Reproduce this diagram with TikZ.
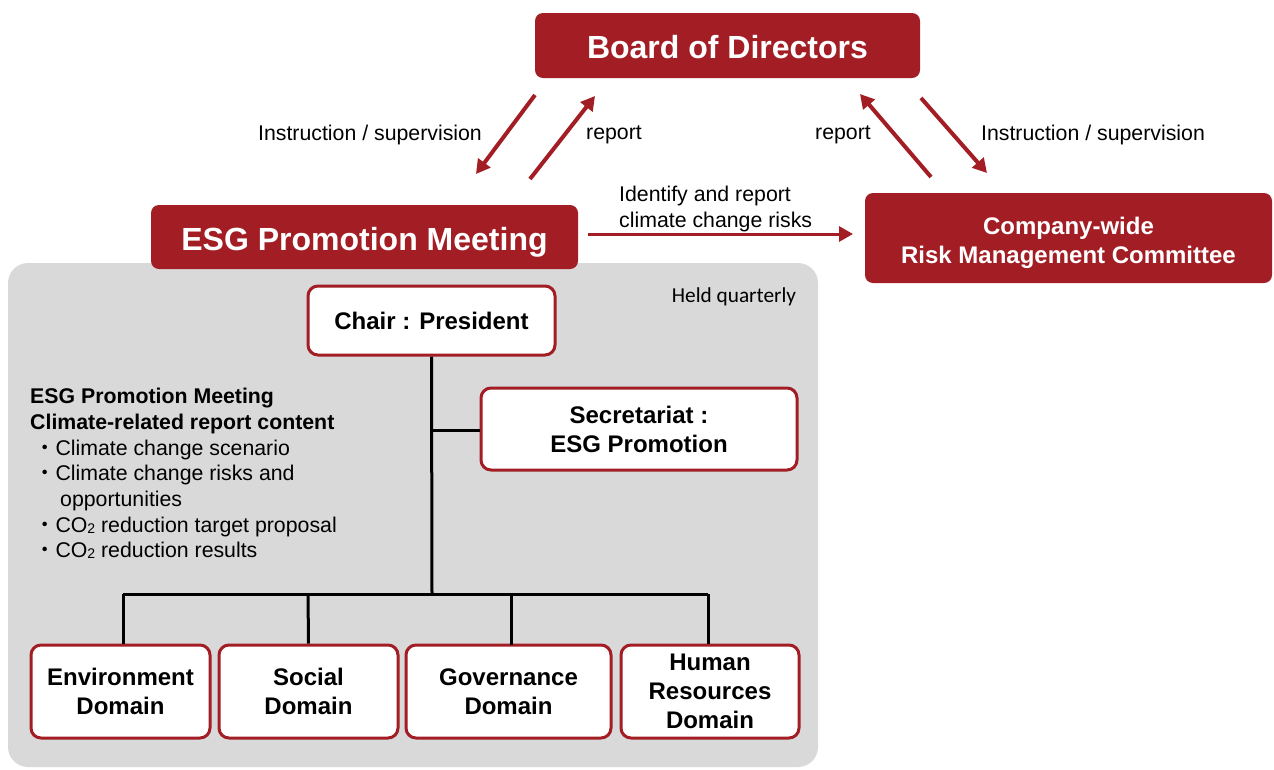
\documentclass[tikz,border=0pt]{standalone}
\usepackage{fontspec}
\setmainfont{Liberation Sans}
\newfontfamily\cjk{Noto Sans CJK JP}
\newfontfamily\calib{Carlito}
\usetikzlibrary{arrows.meta}
\definecolor{esgred}{RGB}{162,30,36}
\definecolor{panel}{RGB}{217,217,217}
\newcommand{\cosub}{CO\raisebox{-0.05em}{\fontsize{14}{14}\selectfont 2}}
\newcommand{\bul}{{\cjk ・}}
\begin{document}
\begin{tikzpicture}[x=1pt,y=-1pt,
  redbox/.style={fill=esgred,rounded corners=8pt,text=white,align=center,inner sep=0pt},
  whitebox/.style={fill=white,draw=esgred,line width=3pt,rounded corners=10pt,align=center,inner sep=0pt,
     font=\fontsize{24}{29}\selectfont\bfseries},
  redarrow/.style={draw=esgred,line width=4pt,-{Triangle[length=14pt,width=15pt]}},
  treeline/.style={draw=black,line width=3pt},
  lbl/.style={font=\fontsize{21.3}{25.7}\selectfont,inner sep=0pt}]
\useasboundingbox (0,0) rectangle (1274,769);
% panel
\fill[panel,rounded corners=20pt] (8,263) rectangle (818,767);
% red boxes
\fill[esgred,rounded corners=8pt] (535,13) rectangle (920,78);
\node[text=white,inner sep=0pt,font=\fontsize{32}{38}\selectfont\bfseries] (board) at (727.5,47) {Board of Directors};
\fill[esgred,rounded corners=8pt] (151,205) rectangle (578,269);
\node[text=white,inner sep=0pt,font=\fontsize{32}{38}\selectfont\bfseries] (esg) at (364.5,242) {ESG Promotion Meeting};
\fill[esgred,rounded corners=8pt] (865,193) rectangle (1272,283);
\node[text=white,align=center,inner sep=0pt,font=\fontsize{24}{29}\selectfont\bfseries] (risk) at (1068.5,243) {Company-wide\\Risk Management Committee};
% white boxes
\node[whitebox,minimum width=247pt,minimum height=69pt] (chair) at (431.5,320.5) {Chair : President};
\node[whitebox,minimum width=316pt,minimum height=82pt] (sec) at (639,429) {Secretariat :\\ESG Promotion};
\node[whitebox,minimum width=179pt,minimum height=93pt] (env) at (120.5,691.5) {Environment\\Domain};
\node[whitebox,minimum width=179pt,minimum height=93pt] (soc) at (308.5,691.5) {Social\\Domain};
\node[whitebox,minimum width=205pt,minimum height=93pt] (gov) at (508.5,691.5) {Governance\\Domain};
\node[whitebox,minimum width=178pt,minimum height=93pt] (hr) at (710,691.5) {Human\\Resources\\Domain};
% tree
\coordinate (trunk) at (432,594);
\coordinate (secj) at (432,430);
\coordinate (busL) at (123,594);
\coordinate (busR) at (708,594);
\draw[treeline] (chair.south) -- (trunk);
\draw[treeline] (secj) -- (sec.west|-secj);
\draw[treeline] (busL) -- (busR);
\draw[treeline] (busL) -- (busL|-env.north);
\draw[treeline] (308,594) -- (soc.north);
\draw[treeline] (511,594) -- (511,645);
\draw[treeline] (busR) -- (busR|-hr.north);
% arrows
\coordinate (a1s) at (535,95); \coordinate (a1e) at (476,174);
\coordinate (a2s) at (530,179); \coordinate (a2e) at (595,96);
\coordinate (a3s) at (931,177); \coordinate (a3e) at (860,94);
\coordinate (a4s) at (921,98); \coordinate (a4e) at (987,173);
\draw[redarrow] (a1s) -- (a1e);
\draw[redarrow] (a2s) -- (a2e);
\draw[redarrow] (a3s) -- (a3e);
\draw[redarrow] (a4s) -- (a4e);
\coordinate (h1) at (588,234);
\coordinate (h2) at (853,234);
\draw[redarrow,line width=3pt] (h1) -- (h2);
% labels
\node[lbl] (l1) at (370,135) {Instruction / supervision};
\node[lbl] (l2) at (614,135) {report};
\node[lbl] (l3) at (843,135) {report};
\node[lbl] (l4) at (1093,135) {Instruction / supervision};
\node[lbl,anchor=north west,align=left] (l5) at (619,186) {Identify and report\\climate change risks};
\node[font=\calib\fontsize{21.3}{25}\selectfont,inner sep=0pt] (held) at (734,297) {Held quarterly};
\node[lbl,anchor=north west,align=left] (list) at (30,388) {\textbf{ESG Promotion Meeting}\\
\textbf{Climate-related report content}\\
\hspace*{4pt}\bul Climate change scenario\\
\hspace*{4pt}\bul Climate change risks and\\
\hspace*{30pt}opportunities\\
\hspace*{4pt}\bul \cosub\ reduction target proposal\\
\hspace*{4pt}\bul \cosub\ reduction results};
\end{tikzpicture}
\end{document}
